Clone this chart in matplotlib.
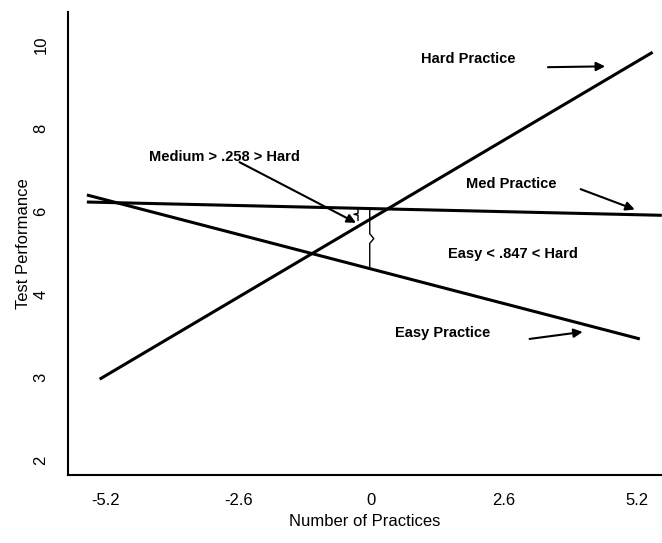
import matplotlib
matplotlib.use("Agg")
import matplotlib.pyplot as plt
import numpy as np

plt.rcParams["font.family"] = ["Liberation Sans", "DejaVu Sans"]

# line end points (axis units)
hard_x = [-5.32, 5.51]
hard_y = [1.95, 9.83]
med_x = [-5.57, 5.69]
med_y = [6.22, 5.90]
easy_x = [-5.57, 5.26]
easy_y = [6.39, 2.92]

x_ticks = [-5.2, -2.6, 0, 2.6, 5.2]
x_tick_labels = ["-5.2", "-2.6", "0", "2.6", "5.2"]
y_ticks = [0, 2, 4, 6, 8, 10]
y_tick_labels = ["2", "3", "4", "6", "8", "10"]

# (text, text position, arrow tail, arrow tip)
notes = [
    ("Hard Practice", (1.89, 9.66), (3.46, 9.47), (4.58, 9.49)),
    ("Medium > .258 > Hard", (-2.87, 7.30), (-2.58, 7.18), (-0.30, 5.72)),
    ("Med Practice", (2.75, 6.65), (4.10, 6.53), (5.16, 6.04)),
    ("Easy < .847 < Hard", (2.77, 4.96), None, None),
    ("Easy Practice", (1.40, 3.06), (3.10, 2.92), (4.14, 3.09)),
]


def line_at(xs, ys, x):
    return np.interp(x, xs, ys)


def brace(ax, x, y_top, y_bot, dx):
    mid = (y_top + y_bot) / 2
    d = (y_top - y_bot) * 0.08
    px = [x, x, x + dx, x, x]
    py = [y_top, mid + d, mid, mid - d, y_bot]
    ax.plot(px, py, color="black", lw=1.0)


fig = plt.figure(figsize=(6.62, 5.43), dpi=100)
ax = fig.add_axes([0.1027, 0.1252, 0.897, 0.8527])

for xs, ys in [(hard_x, hard_y), (med_x, med_y), (easy_x, easy_y)]:
    ax.plot(xs, ys, color="black", lw=2.2, solid_capstyle="butt")

# small brace between medium and hard, large one between medium and easy
bx_small = -0.26
brace(ax, bx_small, line_at(med_x, med_y, bx_small), 5.78, -0.08)
bx_big = -0.03
brace(ax, bx_big, line_at(med_x, med_y, bx_big), line_at(easy_x, easy_y, bx_big), 0.08)

for text, pos, tail, tip in notes:
    ax.text(pos[0], pos[1], text, ha="center", va="center",
            fontsize=10.5, fontweight="bold")
    if tail is not None:
        ax.annotate("", xy=tip, xytext=tail,
                    arrowprops=dict(arrowstyle="-|>", lw=1.5, color="black",
                                    mutation_scale=13, shrinkA=0, shrinkB=0))

ax.set_xlim(-5.94, 5.69)
ax.set_ylim(-0.36, 10.8)
ax.set_xticks(x_ticks)
ax.set_xticklabels(x_tick_labels)
ax.set_yticks(y_ticks)
ax.set_yticklabels(y_tick_labels, rotation=90, va="center")
ax.tick_params(axis="both", length=0, labelsize=12)
ax.tick_params(axis="x", pad=13)
ax.tick_params(axis="y", pad=14)
ax.set_xlabel("Number of Practices", fontsize=12, labelpad=4)
ax.set_ylabel("Test Performance", fontsize=12, labelpad=2)

ax.spines["top"].set_visible(False)
ax.spines["right"].set_visible(False)
ax.spines["left"].set_linewidth(1.5)
ax.spines["bottom"].set_linewidth(1.5)

fig.savefig("out.png", dpi=100)
